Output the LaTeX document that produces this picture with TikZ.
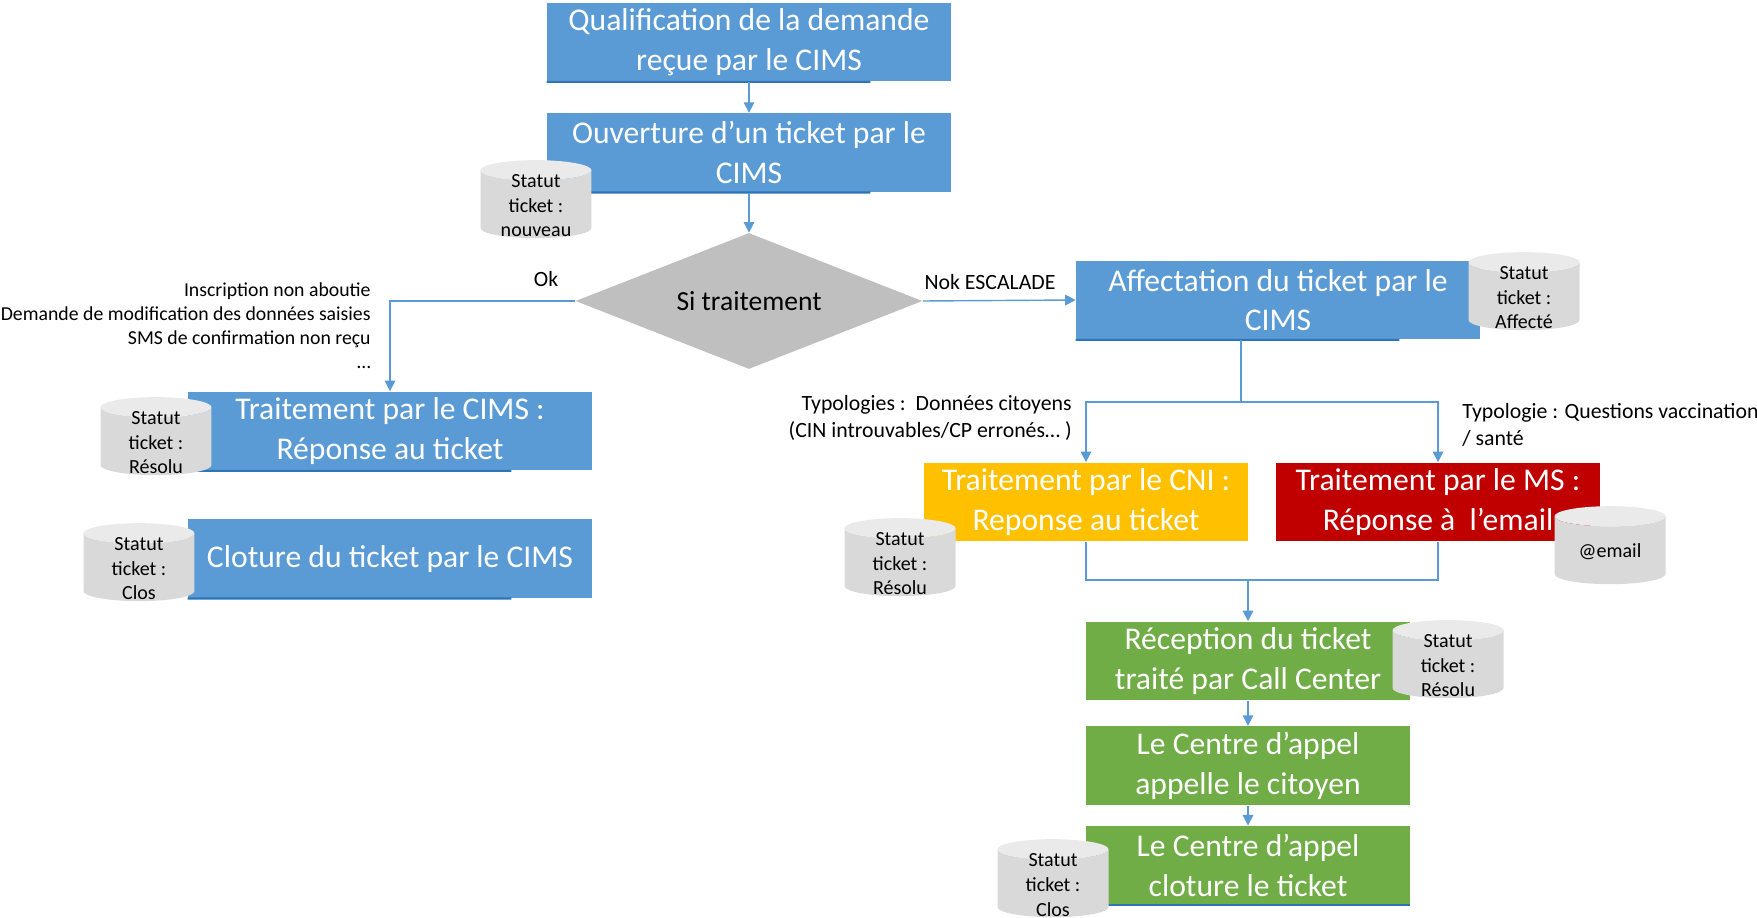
\documentclass[tikz,border=0pt]{standalone}
\usepackage{fontspec}
\setmainfont{Carlito}
\usetikzlibrary{shapes,arrows.meta,positioning,calc}
\definecolor{cimsblue}{RGB}{91,155,213}
\definecolor{edgeblue}{RGB}{46,117,182}
\definecolor{cnigold}{RGB}{255,192,0}
\definecolor{msred}{RGB}{192,0,0}
\definecolor{ccgreen}{RGB}{112,173,71}
\definecolor{dbgray}{RGB}{217,217,217}
\definecolor{dbtop}{RGB}{234,234,234}

\begin{document}
\begin{tikzpicture}[
    x=0.02cm, y=-0.02cm,
    box/.style={rectangle, fill=cimsblue, text=white, align=center, inner sep=0pt, minimum width=8.08cm, minimum height=1.58cm, font=\fontsize{18}{22.5}\selectfont},
    smallbox/.style={box, minimum width=6.48cm},
    cyl/.style={cylinder, shape border rotate=90, aspect=0.27, cylinder uses custom fill, cylinder body fill=dbgray, cylinder end fill=dbtop, text width=1.5cm, minimum width=2.22cm, minimum height=1.56cm, inner sep=0pt, yshift=-2.5pt},
    cyltext/.style={align=center, inner sep=0pt, font=\fontsize{11.4}{14}\selectfont},
    decision/.style={diamond, aspect=2.55, fill=gray!50, inner sep=0pt, minimum width=6.94cm, minimum height=2.72cm, font=\fontsize{15.7}{19}\selectfont},
    lbl/.style={inner sep=0pt, font=\fontsize{12.4}{15}\selectfont},
    conn/.style={draw=cimsblue, line width=0.8pt},
    arr/.style={conn, -{Triangle[length=6pt,width=6pt]}}
]
\path[use as bounding box, fill=white] (0,0) rectangle (1757,918);

% CIMS side
\node[box] (qual) at (749,42) {Qualification de la demande\\reçue par le CIMS};
\node[box, below=0.62cm of qual] (ouv) {Ouverture d’un ticket par le\\CIMS};
\node[decision] (si) at (749,301) {Si traitement};
\node[box] (trt) at (390,431) {Traitement par le CIMS :\\Réponse au ticket};
\node[box, below=0.96cm of trt] (clo) {Cloture du ticket par le CIMS};

% escalade side
\node[box] (aff) at (1278,300) {Affectation du ticket par le\\CIMS};
\node[smallbox, fill=cnigold] (cni) at (1086,502) {Traitement par le CNI :\\Reponse au ticket};
\node[smallbox, fill=msred] (ms) at (1438,502) {Traitement par le MS :\\Réponse à\ \ l’email};
\node[smallbox, fill=ccgreen] (rec) at (1248,661) {Réception du ticket\\traité par Call Center};
\node[smallbox, fill=ccgreen, below=0.5cm of rec] (app) {Le Centre d’appel\\appelle le citoyen};
\node[smallbox, fill=ccgreen, below=0.4cm of app] (clo2) {Le Centre d’appel\\cloture le ticket};

\foreach \n/\f in {qual/0.8, ouv/0.8, aff/0.8, trt/0.8, clo/0.8, clo2/1}
  \draw[edgeblue, line width=1.2pt] (\n.south west) -- ($(\n.south west)!\f!(\n.south east)$);

% ticket status
\foreach \n/\p/\t in {stnew/{536,200}/nouveau, stresa/{156,437}/Résolu, stclosa/{139,563}/Clos,
    staff/{1524,292}/Affecté, stresb/{900,558}/Résolu, stresc/{1448,660}/Résolu, stclosb/{1053,879}/Clos} {
  \node[cyl] (\n) at (\p) {};
  \node[cyltext] (\n txt) at ([yshift=-0.9pt]\n.center) {Statut\\ticket :\\\t};
}
\node[cyl] (email) at (1610,546) {};
\node[cyltext] (emailtxt) at ([yshift=-0.9pt]email.center) {@email};

% labels
\node[lbl] (ok) at (546,279) {Ok};
\node[lbl] (nok) at (990,282) {Nok ESCALADE};
\node[lbl, anchor=east, align=right, font=\fontsize{11.25}{13.6}\selectfont] (cases) at (371,326) {Inscription non aboutie\\Demande de modification des données saisies\\SMS de confirmation non reçu\\…};
\node[lbl, anchor=east, align=right] (typocni) at (1072,418) {Typologies :\ \ Données citoyens\\(CIN introuvables/CP erronés… )};
\node[lbl, anchor=west, align=left] (typoms) at (1462,425) {Typologie : Questions vaccination\\/ santé};

\coordinate (split) at (1241,402);
\coordinate (merge) at (1248,580);

\draw[arr] (qual) -- (ouv);
\draw[arr] (ouv) -- (si);
\draw[arr] (si.west) -| (trt.north);
\draw[arr] (si.east) -- (aff.west);
\draw[conn] (aff.south -| split) -- (split);
\draw[arr] (split) -| (cni.north);
\draw[arr] (split) -| (ms.north);
\draw[conn] (cni.south) |- (merge);
\draw[conn] (ms.south) |- (merge);
\draw[arr] (merge) -- (rec);
\draw[arr] (rec) -- (app);
\draw[arr] (app) -- (clo2);

\end{tikzpicture}
\end{document}
